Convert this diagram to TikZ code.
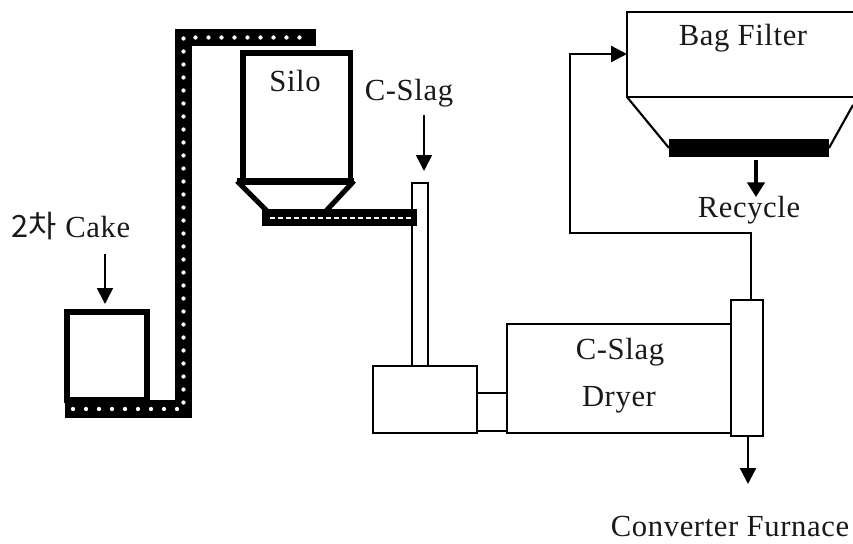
\documentclass[tikz,border=0pt]{standalone}
\usepackage{fontspec}
\setmainfont[LetterSpace=2]{Liberation Serif}
\newfontfamily\krfont{Noto Sans CJK KR}
\usetikzlibrary{arrows.meta}
\tikzset{
  thinbox/.style={draw=black,line width=1.6pt,fill=white,inner sep=0pt,outer sep=0pt},
  heavybox/.style={draw=black,line width=4.2pt,fill=white,inner sep=0pt,outer sep=0pt},
  lab/.style={inner sep=0pt,font=\fontsize{23}{26}\selectfont,text=black!90},
  belt/.style={draw=black,line width=12.8pt,line join=miter},
  beltdots/.style={draw=white,line width=3.2pt,line cap=round,dash pattern=on 0pt off 9.75pt},
  beltdash/.style={draw=white,line width=1.5pt,dash pattern=on 3.5pt off 2.5pt},
  flow/.style={draw=black,line width=1.7pt,-{Triangle[length=12pt,width=12pt]}},
  flowbold/.style={draw=black,line width=2.6pt,-{Triangle[length=11pt,width=13pt]}},
  flowthin/.style={draw=black,line width=1.2pt,-{Triangle[length=12pt,width=12pt]}},
  pipe/.style={draw=black,line width=1.6pt},
}
\begin{document}
\begin{tikzpicture}[x=0.75pt,y=-0.75pt]
\useasboundingbox (0,0) rectangle (853,543);
\clip (0,0) rectangle (853,543);
% reference points
\coordinate (beltA) at (65,409);
\coordinate (beltB) at (183.5,409);
\coordinate (beltC) at (183.5,37.5);
\coordinate (beltD) at (316,37.5);
\coordinate (feedA) at (262,217.5);
\coordinate (feedB) at (417,217.5);
\coordinate (cakeIn) at (105,254);
\coordinate (slagIn) at (424,115);
% cake hopper
\node[heavybox,minimum width=60pt,minimum height=66pt,anchor=north west] (cake) at (67,312) {};
% standpipe and blocks
\node[thinbox,minimum width=12pt,minimum height=137pt,anchor=north west] (riser) at (412,183) {};
\node[thinbox,minimum width=78pt,minimum height=50pt,anchor=north west] (feeder) at (373,366) {};
\node[thinbox,minimum width=168pt,minimum height=82pt,anchor=north west] (dryer) at (507,324) {};
\node[thinbox,minimum width=24pt,minimum height=102pt,anchor=north west] (hood) at (731,300) {};
\coordinate (linkA) at (feeder.east |- 0,393);
\coordinate (linkB) at (dryer.west |- 0,393);
\coordinate (linkC) at (feeder.east |- 0,431);
\coordinate (linkD) at (dryer.west |- 0,431);
\draw[pipe] (linkA) -- (linkB);
\draw[pipe] (linkC) -- (linkD);
% silo
\node[heavybox,minimum width=80.5pt,minimum height=97pt,anchor=north west] (silo) at (243,53) {};
\coordinate (sfl) at (237,181);
\coordinate (sfr) at (354,181);
\coordinate (sbl) at (268,212);
\coordinate (sbr) at (325,212);
\draw[draw=black,line width=3.8pt] (sfl) -- (sbl);
\draw[draw=black,line width=3.8pt] (sfr) -- (sbr);
\draw[draw=black,line width=4.2pt] (sfl) -- (sfr);
% belts
\draw[belt] (beltA) -- (beltB) -- (beltC) -- (beltD);
\draw[beltdots] (beltA) ++(8,0) -- (beltB) -- (beltC) -- ([xshift=-4]beltD);
\draw[belt] (feedA) -- (feedB);
\draw[beltdash] ([xshift=6]feedA) -- ([xshift=-4]feedB);
% bag filter
\node[thinbox,minimum width=190pt,minimum height=64pt,anchor=north west] (bag) at (627,12) {};
\coordinate (bagL) at (627,97);
\node[fill=black,minimum width=120pt,minimum height=13.5pt,inner sep=0pt,outer sep=0pt,anchor=north west] (bar) at (669,139) {};
\coordinate (bagR) at (853,105);
\draw[pipe] (bagL) -- (bar.west);
\draw[pipe] (bagR) -- (bar.east);
% flows
\coordinate (recA) at (756,160);
\coordinate (recB) at (756,197);
\draw[flowbold] (recA) -- (recB);
\draw[flowthin] (cakeIn) -- (105,304);
\draw[flowthin] (slagIn) -- (424,171);
\coordinate (turnA) at (751,233);
\coordinate (turnB) at (570,233);
\coordinate (turnC) at (570,54);
\draw[flow] (hood.north -| turnA) -- (turnA) -- (turnB) -- (turnC) -- (bag.west |- turnC);
\coordinate (furn) at (748,484);
\draw[flow] (hood.south -| furn) -- (furn);
% labels
\node[lab] (t1) at (71,226) {{\krfont 2차}\ Cake};
\node[lab] (t2) at (295,81) {Silo};
\node[lab] (t3) at (409,93) {C{-}Slag};
\node[lab] (t4) at (743,38) {Bag Filter};
\node[lab] (t5) at (749,210) {Recycle};
\node[lab] (t6) at (620,352) {C{-}Slag};
\node[lab] (t7) at (619,400) {Dryer};
\node[lab] (t8) at (730,526) {Converter Furnace};
\end{tikzpicture}
\end{document}
